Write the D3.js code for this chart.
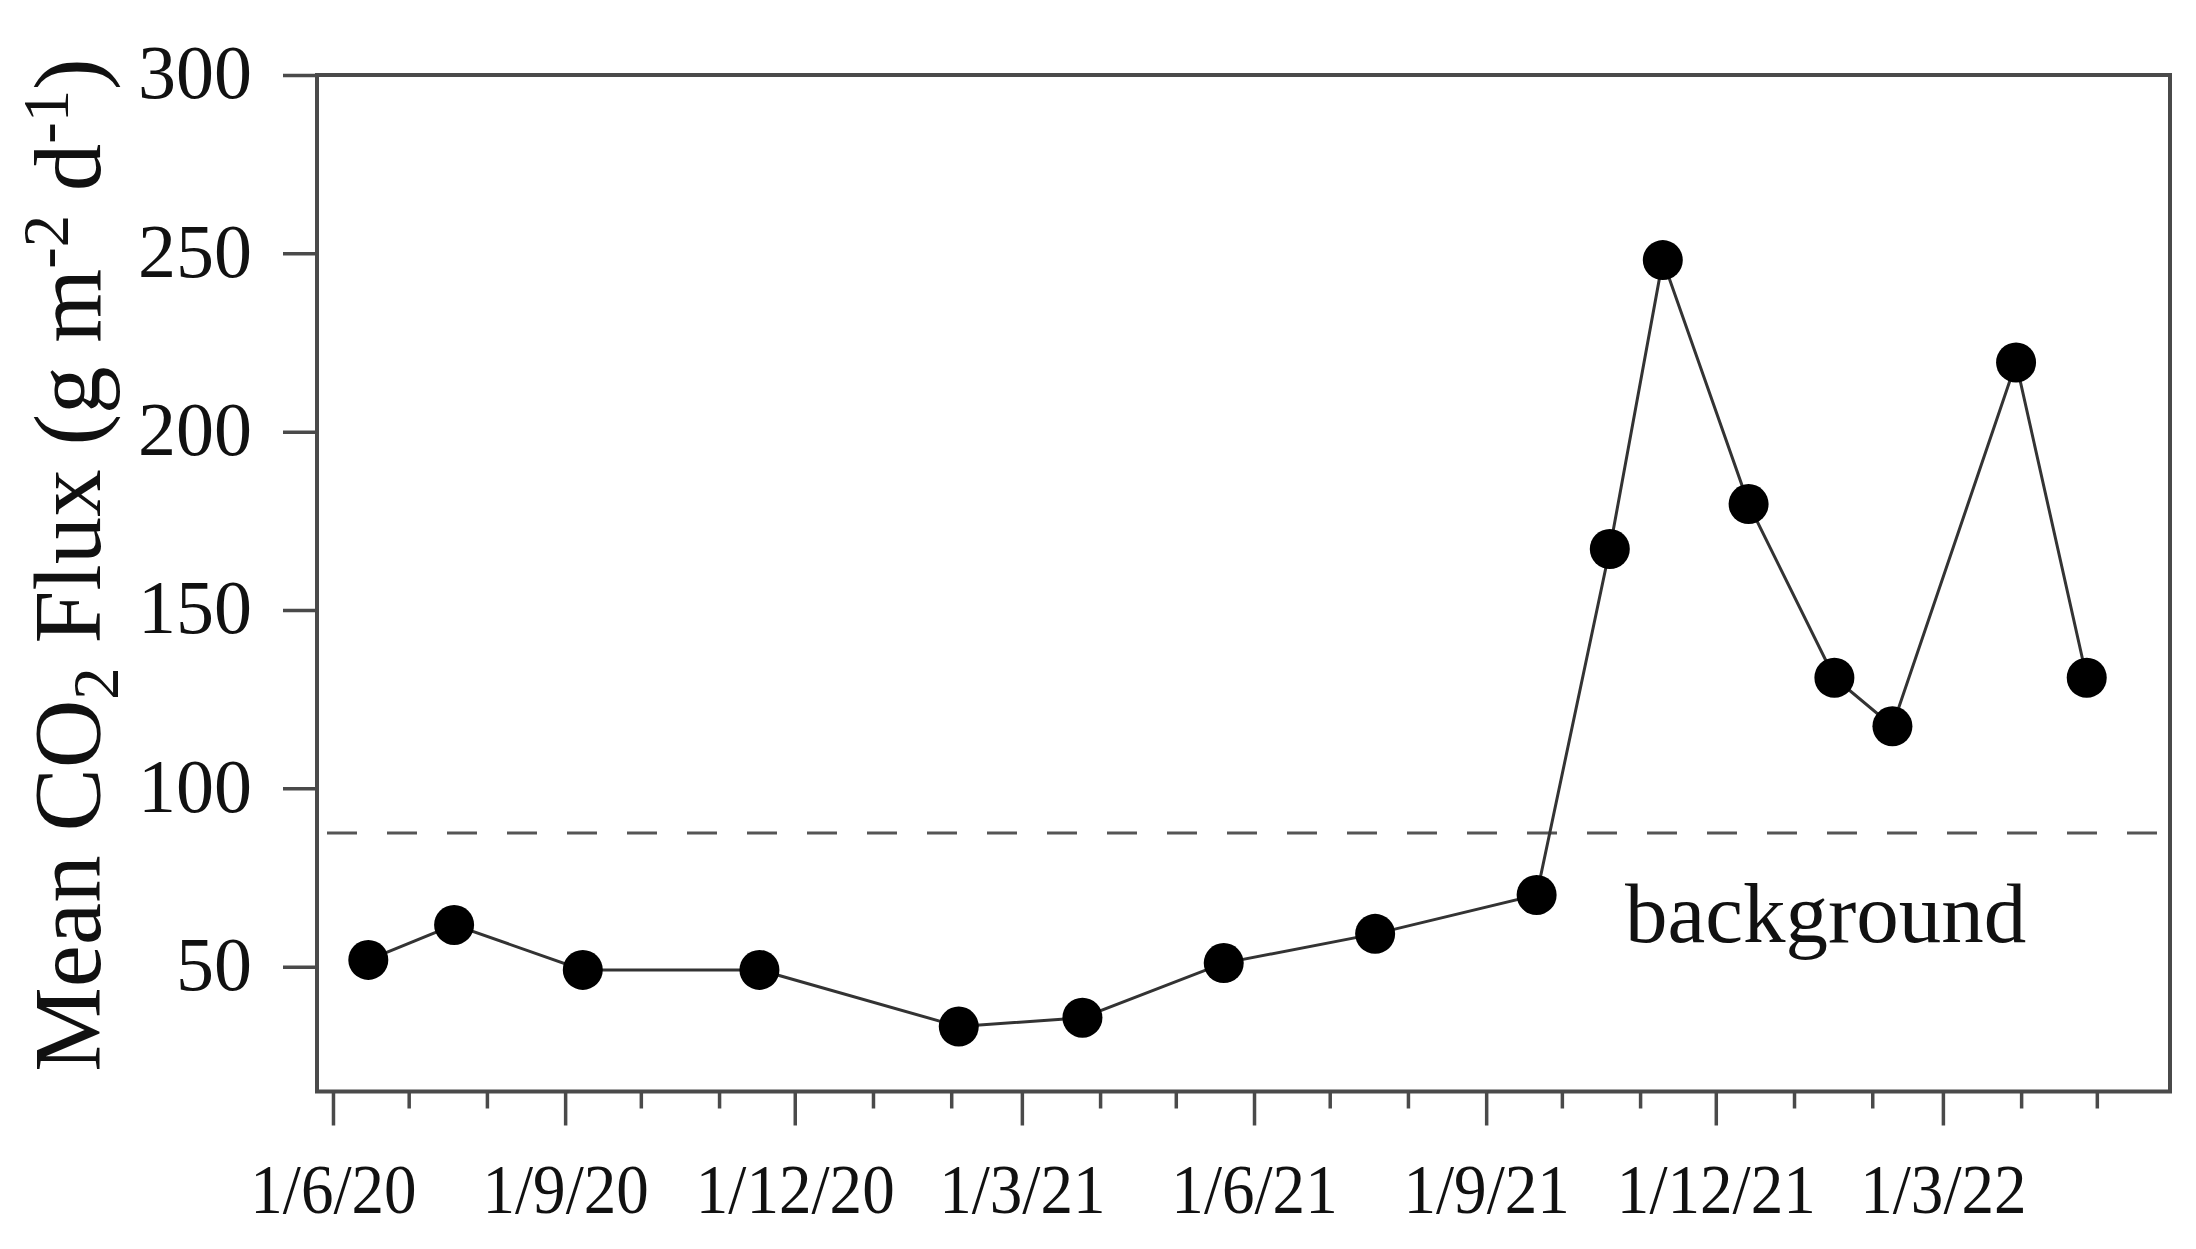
<!DOCTYPE html>
<html>
<head>
<meta charset="utf-8">
<script src="https://cdn.jsdelivr.net/npm/d3@7"></script>
<style>
  html, body { margin: 0; padding: 0; background: #fff; }
  svg { display: block; }
  text { font-family: "Liberation Serif", "Times New Roman", serif; fill: #111; }
</style>
</head>
<body>
<svg id="chart" width="2196" height="1249"></svg>
<script>
// ---- data ----
const sampleDates = ["2020-06-15","2020-07-19","2020-09-08","2020-11-17","2021-02-04","2021-03-25",
                     "2021-05-20","2021-07-19","2021-09-21","2021-10-20","2021-11-10","2021-12-14",
                     "2022-01-17","2022-02-09","2022-03-30","2022-04-27"];
const fluxValues = [51.9, 61.7, 49.1, 49.1, 33.2, 35.7, 51.0, 59.2, 70.1, 167.1, 248.1, 179.7,
                    131.0, 117.4, 219.4, 131.0];
const backgroundLevel = 87.5;
const yTicks = [50, 100, 150, 200, 250, 300];
const xMajorTicks = ["2020-06-01","2020-09-01","2020-12-01","2021-03-01","2021-06-01","2021-09-01","2021-12-01","2022-03-01"];
const xMajorLabels = ["1/6/20","1/9/20","1/12/20","1/3/21","1/6/21","1/9/21","1/12/21","1/3/22"];
const xMinorTicks = ["2020-07-01","2020-08-01","2020-10-01","2020-11-01","2021-01-01","2021-02-01",
                     "2021-04-01","2021-05-01","2021-07-01","2021-08-01","2021-10-01","2021-11-01",
                     "2022-01-01","2022-02-01","2022-04-01","2022-05-01"];
const xDomain = ["2020-05-25T16:00:00Z", "2022-05-30T00:00:00Z"];
const yDomain = [15, 300];

// ---- layout ----
const plotL = 317, plotR = 2170, plotT = 75, plotB = 1091.5;
const axisColor = "#4a4a4a";

const svg = d3.select("#chart");
svg.append("rect").attr("width", 2196).attr("height", 1249).attr("fill", "#fff");

const parse = s => new Date(s.length > 10 ? s : s + "T00:00:00Z");
const x = d3.scaleUtc().domain(xDomain.map(parse)).range([plotL, plotR]);
const y = d3.scaleLinear().domain(yDomain).range([plotB, plotT]);

const data = sampleDates.map((d, i) => ({ date: parse(d), value: fluxValues[i] }));

// dashed background line
svg.append("line")
  .attr("x1", plotL + 10).attr("x2", plotR)
  .attr("y1", y(backgroundLevel)).attr("y2", y(backgroundLevel))
  .attr("stroke", "#555").attr("stroke-width", 3)
  .attr("stroke-dasharray", "30,30");

svg.append("text")
  .attr("x", 1625).attr("y", 942)
  .attr("font-size", 85)
  .text("background");

// frame
svg.append("rect")
  .attr("x", plotL).attr("y", plotT)
  .attr("width", plotR - plotL).attr("height", plotB - plotT)
  .attr("fill", "none").attr("stroke", axisColor).attr("stroke-width", 4);

// y axis
const yAxis = d3.axisLeft(y).tickValues(yTicks).tickSize(34).tickSizeOuter(0).tickPadding(31)
  .tickFormat(d3.format("d"));
const gy = svg.append("g").attr("transform", `translate(${plotL},0)`).call(yAxis);
gy.select(".domain").remove();
gy.selectAll(".tick line").attr("stroke", axisColor).attr("stroke-width", 3.5);
gy.selectAll(".tick text").attr("font-size", 76).attr("font-family", "Liberation Serif").attr("fill", "#111")
  .attr("dy", "0.3em");

// x axis - minor
const xMinor = d3.axisBottom(x).tickValues(xMinorTicks.map(parse)).tickSize(17).tickSizeOuter(0).tickFormat("");
const gxm = svg.append("g").attr("transform", `translate(0,${plotB})`).call(xMinor);
gxm.select(".domain").remove();
gxm.selectAll(".tick line").attr("stroke", axisColor).attr("stroke-width", 3.5);

// x axis - major
const labelMap = new Map(xMajorTicks.map((d, i) => [+parse(d), xMajorLabels[i]]));
const xMajor = d3.axisBottom(x).tickValues(xMajorTicks.map(parse)).tickSize(34).tickSizeOuter(0)
  .tickFormat(d => labelMap.get(+d));
const gx = svg.append("g").attr("transform", `translate(0,${plotB})`).call(xMajor);
gx.select(".domain").remove();
gx.selectAll(".tick line").attr("stroke", axisColor).attr("stroke-width", 3.5);
gx.selectAll(".tick text")
  .attr("font-size", 70).attr("font-family", "Liberation Serif").attr("fill", "#111")
  .attr("y", 121.5).attr("dy", null)
  .attr("transform", "scale(0.93,1)");

// line + markers
const line = d3.line().x(d => x(d.date)).y(d => y(d.value));
svg.append("path").datum(data)
  .attr("d", line).attr("fill", "none")
  .attr("stroke", "#333").attr("stroke-width", 3);

svg.append("g").selectAll("circle").data(data).join("circle")
  .attr("cx", d => x(d.date)).attr("cy", d => y(d.value))
  .attr("r", 20).attr("fill", "#000");

// y title
const title = svg.append("text")
  .attr("transform", "translate(100,565) rotate(-90)")
  .attr("text-anchor", "middle")
  .attr("font-size", 95);
title.append("tspan").text("Mean CO");
title.append("tspan").attr("font-size", "0.68em").attr("dy", "0.28em").text("2");
title.append("tspan").attr("dy", "-0.19em").text(" Flux (g m");
title.append("tspan").attr("font-size", "0.68em").attr("dy", "-0.5em").text("-2");
title.append("tspan").attr("dy", "0.34em").text(" d");
title.append("tspan").attr("font-size", "0.68em").attr("dy", "-0.5em").text("-1");
title.append("tspan").attr("dy", "0.34em").text(")");
</script>
</body>
</html>
